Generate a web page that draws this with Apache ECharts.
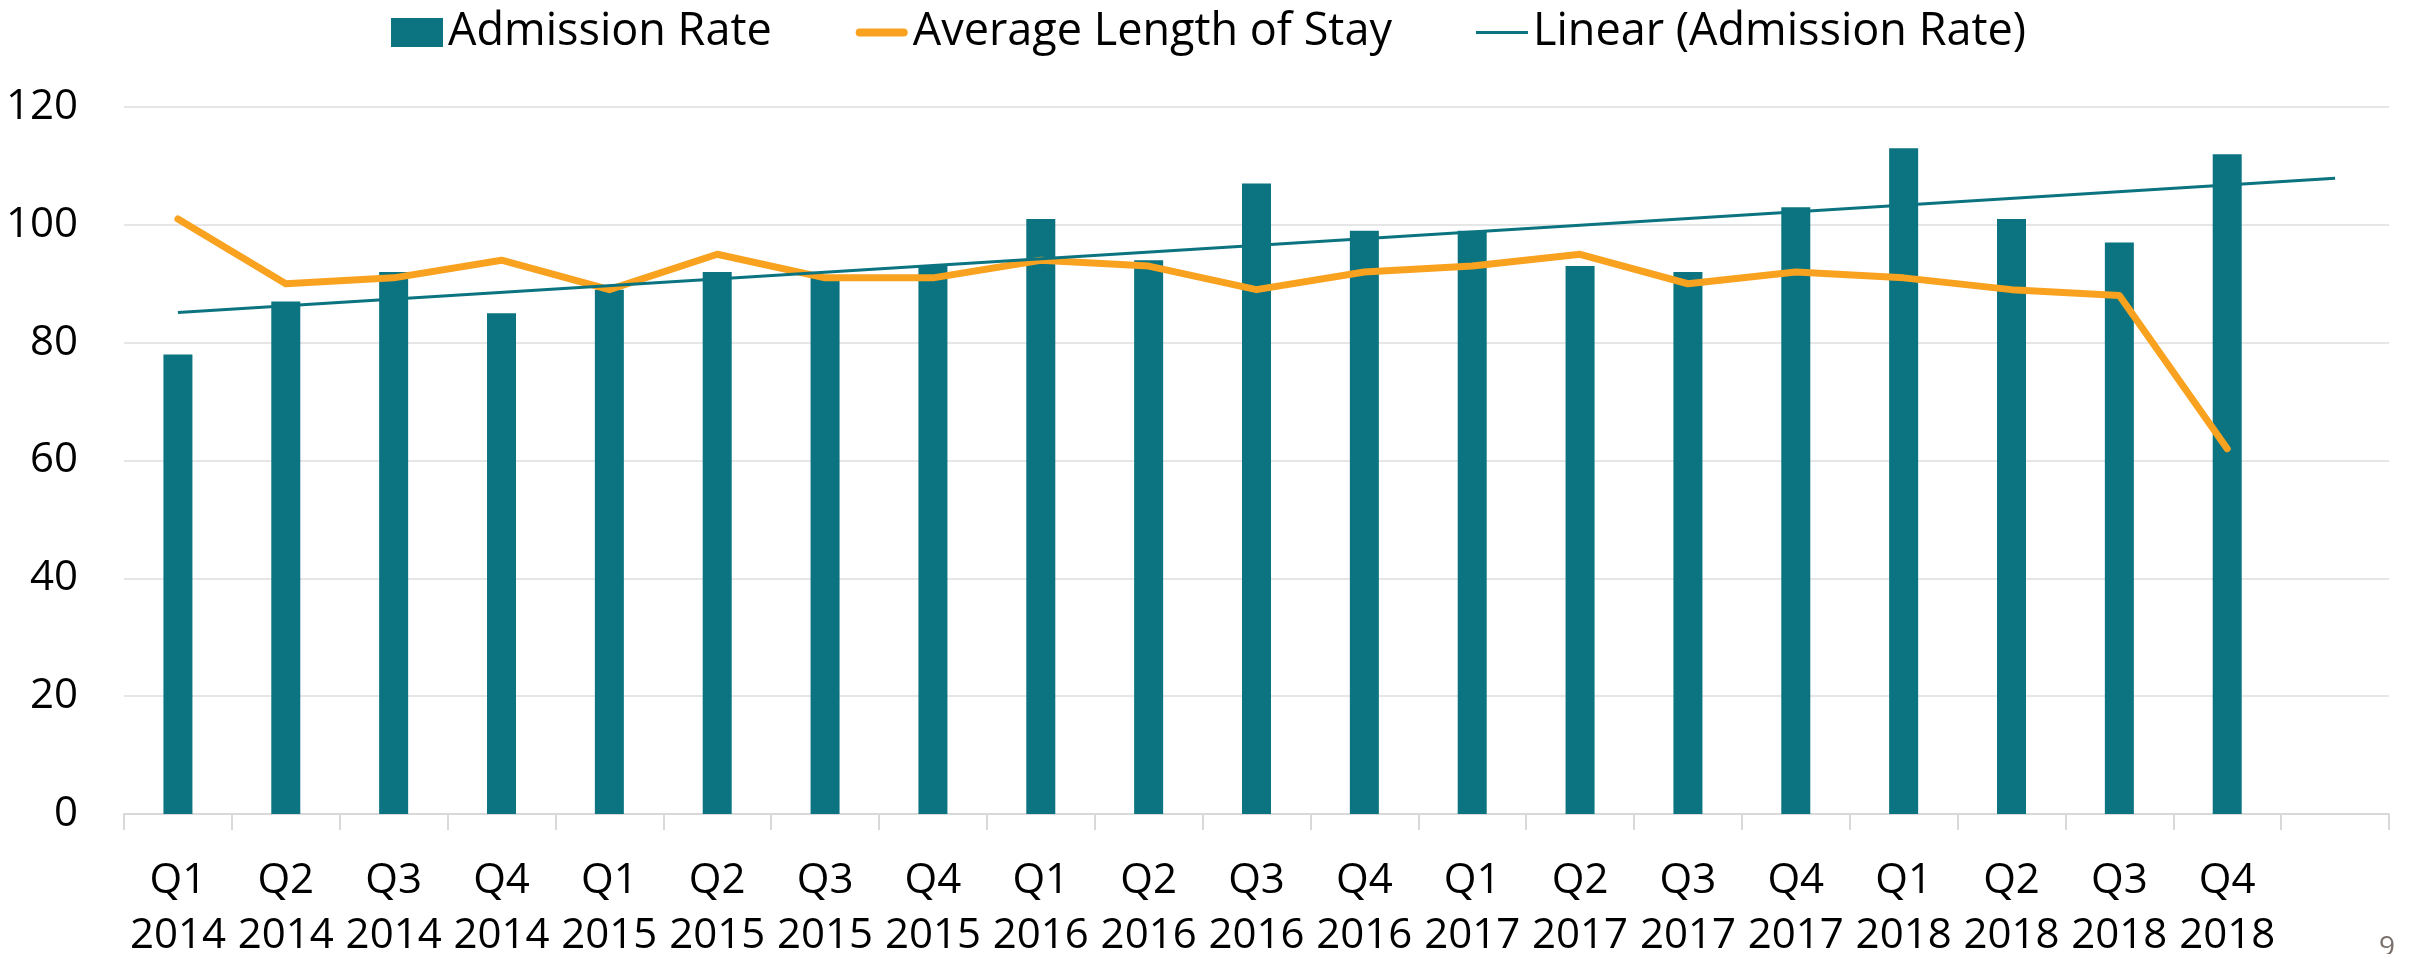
<!DOCTYPE html>
<html>
<head>
<meta charset="utf-8">
<script src="https://cdn.jsdelivr.net/npm/echarts@6/dist/echarts.min.js"></script>
<style>
html,body{margin:0;padding:0;background:#fff;}
#chart{width:2417px;height:954px;}
</style>
</head>
<body>
<div id="chart"></div>
<script>
const categories = ['Q1\n2014','Q2\n2014','Q3\n2014','Q4\n2014','Q1\n2015','Q2\n2015','Q3\n2015','Q4\n2015','Q1\n2016','Q2\n2016','Q3\n2016','Q4\n2016','Q1\n2017','Q2\n2017','Q3\n2017','Q4\n2017','Q1\n2018','Q2\n2018','Q3\n2018','Q4\n2018',''];
const admissionRate = [78,87,92,85,89,92,91,93,101,94,107,99,99,93,92,103,113,101,97,112];
const avgLengthOfStay = [101,90,91,94,89,95,91,91,94,93,89,92,93,95,90,92,91,89,88,62];
// Trend line end points (first and last category slot)
const trendStart = 85.1;
const trendEnd = 107.9;
const yTicks = {min: 0, max: 120, interval: 20};
const pageNumber = '9';

const TEAL = '#0B7480';
const ORANGE = '#F8A21F';
const FONT = '"Open Sans", sans-serif';

const chart = echarts.init(document.getElementById('chart'));
chart.setOption({
  animation: false,
  legend: {
    top: 5,
    left: 'center',
    itemWidth: 52,
    itemHeight: 29,
    itemGap: 84,
    textStyle: {fontFamily: FONT, fontSize: 45, color: '#000', lineHeight: 45},
    data: [
      {name: 'Admission Rate', icon: 'rect'},
      {name: 'Average Length of Stay', icon: 'path://M4,0H48A4,4 0 0 1 48,8H4A4,4 0 0 1 4,0Z'},
      {name: 'Linear (Admission Rate)', icon: 'path://M0,0H52V3H0Z'}
    ]
  },
  grid: {left: 124, right: 28, top: 107, bottom: 140, containLabel: false, outerBoundsMode: 'none'},
  xAxis: {
    type: 'category',
    data: categories,
    boundaryGap: true,
    axisLine: {lineStyle: {color: '#D9D9D9', width: 2}},
    axisTick: {show: true, length: 16, lineStyle: {color: '#D9D9D9', width: 2}},
    axisLabel: {fontFamily: FONT, fontSize: 42, color: '#000', lineHeight: 55, margin: 40, interval: 0}
  },
  yAxis: {
    type: 'value',
    min: yTicks.min, max: yTicks.max, interval: yTicks.interval,
    axisLine: {show: false},
    axisTick: {show: false},
    splitLine: {lineStyle: {color: '#E6E6E6', width: 2}},
    axisLabel: {fontFamily: FONT, fontSize: 42, color: '#000', margin: 46}
  },
  series: [
    {
      name: 'Admission Rate',
      type: 'bar',
      data: admissionRate,
      barWidth: 29,
      itemStyle: {color: TEAL},
      z: 2
    },
    {
      name: 'Average Length of Stay',
      type: 'line',
      data: avgLengthOfStay,
      symbol: 'none',
      lineStyle: {color: ORANGE, width: 7, cap: 'round', join: 'round'},
      itemStyle: {color: ORANGE},
      z: 3
    },
    {
      name: 'Linear (Admission Rate)',
      type: 'line',
      data: [[0, trendStart], [categories.length - 1, trendEnd]],
      symbol: 'none',
      lineStyle: {color: TEAL, width: 3},
      itemStyle: {color: TEAL},
      z: 4
    }
  ],
  graphic: [{
    type: 'text',
    left: 2379,
    top: 934,
    style: {text: pageNumber, fontFamily: FONT, fontSize: 28, fill: '#7A716C'}
  }]
});
</script>
</body>
</html>
